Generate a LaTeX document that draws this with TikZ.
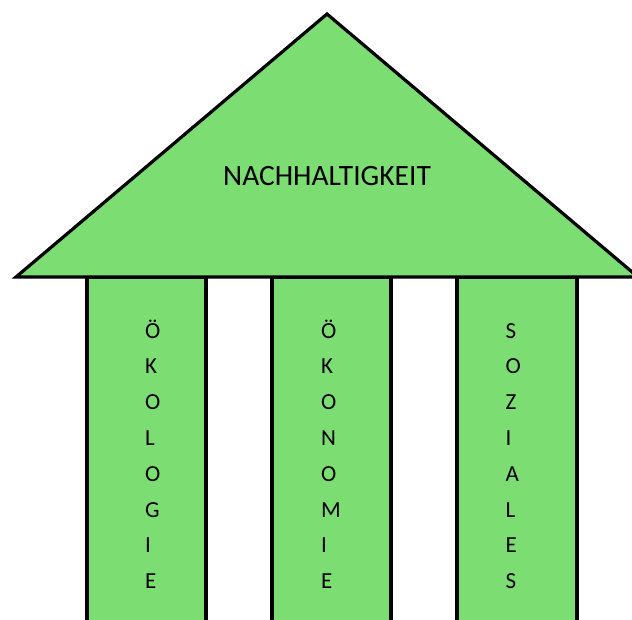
\documentclass[tikz,border=0pt]{standalone}
\usepackage{fontspec}
\setmainfont{Carlito}
\definecolor{leaf}{RGB}{123,221,114}
\begin{document}
\begin{tikzpicture}[x=1pt,y=-1pt,
  part/.style={fill=leaf,draw=black,line width=3.2pt,line join=miter},
  letter/.style={anchor=base west,inner sep=0pt,font=\fontsize{23}{27}\selectfont},
  roofname/.style={anchor=base west,inner sep=0pt,font=\fontsize{29.5}{35}\selectfont}]
\useasboundingbox (0,0) rectangle (632,619);
\clip (0,0) rectangle (632,619);
% three pillars, running past the lower edge
\draw[part] (87,277) rectangle (206,650);
\draw[part] (272,277) rectangle (391,650);
\draw[part] (457,277) rectangle (577,650);
% roof
\draw[part] (16,277) -- (327,14) -- (638,277) -- cycle;
\node[roofname] (roof) at (223,185) {NACHHALTIGKEIT};
% vertical words on the pillars
\foreach \c [count=\i from 0] in {Ö,K,O,L,O,G,I,E}
  \node[letter] (oek\i) at (145,338+35.8*\i) {\c};
\foreach \c [count=\i from 0] in {Ö,K,O,N,O,M,I,E}
  \node[letter] (eco\i) at (320.8,338+35.8*\i) {\c};
\foreach \c [count=\i from 0] in {S,O,Z,I,A,L,E,S}
  \node[letter] (soz\i) at (505.5,338+35.8*\i) {\c};
\end{tikzpicture}
\end{document}
